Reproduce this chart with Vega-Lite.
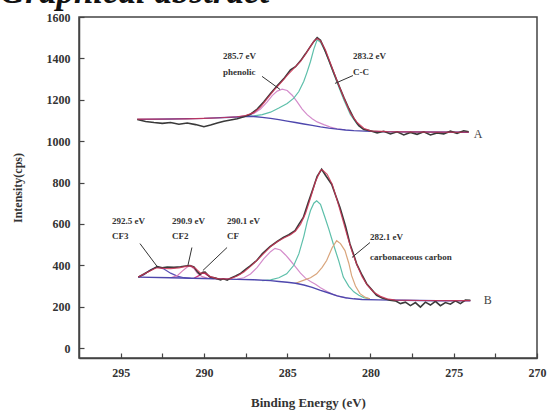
{
  "$schema": "https://vega.github.io/schema/vega-lite/v6.json",
  "autosize": "none",
  "width": 458,
  "height": 341,
  "padding": {"left": 79, "top": 17, "right": 14, "bottom": 54},
  "background": "white",
  "title": {"text": "Graphical abstract", "font": "Liberation Serif", "fontStyle": "italic", "fontWeight": "bold", "fontSize": 35, "color": "#111", "anchor": "start", "frame": "group", "baseline": "alphabetic", "offset": 0, "dx": -79, "dy": 27},
  "config": {"view": {"stroke": "#444", "strokeWidth": 1.5}, "axis": {"grid": false, "labelFlush": false, "labelOverlap": false, "domainColor": "#444", "domainWidth": 1.5, "tickColor": "#444", "tickSize": -5, "tickWidth": 1.2, "labelFont": "Liberation Serif", "labelFontWeight": "bold", "labelFontSize": 12, "labelColor": "#333", "titleFont": "Liberation Serif", "titleFontWeight": "bold", "titleColor": "#333"}},
  "datasets": {
    "spectra": [
      {"spec": "A", "series": "raw", "E": 294.0, "I": 1105}, {"spec": "A", "series": "raw", "E": 293.5, "I": 1095}, {"spec": "A", "series": "raw", "E": 293.0, "I": 1090}, {"spec": "A", "series": "raw", "E": 292.5, "I": 1086}, {"spec": "A", "series": "raw", "E": 292.0, "I": 1090}, {"spec": "A", "series": "raw", "E": 291.5, "I": 1082}, {"spec": "A", "series": "raw", "E": 291.0, "I": 1088}, {"spec": "A", "series": "raw", "E": 290.5, "I": 1080}, {"spec": "A", "series": "raw", "E": 290.0, "I": 1070}, {"spec": "A", "series": "raw", "E": 289.6, "I": 1078}, {"spec": "A", "series": "raw", "E": 289.2, "I": 1088}, {"spec": "A", "series": "raw", "E": 288.8, "I": 1096}, {"spec": "A", "series": "raw", "E": 288.4, "I": 1102}, {"spec": "A", "series": "raw", "E": 288.0, "I": 1108}, {"spec": "A", "series": "raw", "E": 287.6, "I": 1118}, {"spec": "A", "series": "raw", "E": 287.2, "I": 1130}, {"spec": "A", "series": "raw", "E": 286.8, "I": 1155}, {"spec": "A", "series": "raw", "E": 286.4, "I": 1190}, {"spec": "A", "series": "raw", "E": 286.0, "I": 1230}, {"spec": "A", "series": "raw", "E": 285.6, "I": 1268}, {"spec": "A", "series": "raw", "E": 285.2, "I": 1302}, {"spec": "A", "series": "raw", "E": 284.8, "I": 1345}, {"spec": "A", "series": "raw", "E": 284.5, "I": 1360}, {"spec": "A", "series": "raw", "E": 284.2, "I": 1388}, {"spec": "A", "series": "raw", "E": 283.9, "I": 1422}, {"spec": "A", "series": "raw", "E": 283.6, "I": 1458}, {"spec": "A", "series": "raw", "E": 283.4, "I": 1482}, {"spec": "A", "series": "raw", "E": 283.2, "I": 1500}, {"spec": "A", "series": "raw", "E": 283.0, "I": 1488}, {"spec": "A", "series": "raw", "E": 282.8, "I": 1452}, {"spec": "A", "series": "raw", "E": 282.5, "I": 1392}, {"spec": "A", "series": "raw", "E": 282.2, "I": 1330}, {"spec": "A", "series": "raw", "E": 281.9, "I": 1270}, {"spec": "A", "series": "raw", "E": 281.6, "I": 1212}, {"spec": "A", "series": "raw", "E": 281.3, "I": 1158}, {"spec": "A", "series": "raw", "E": 281.0, "I": 1110}, {"spec": "A", "series": "raw", "E": 280.7, "I": 1075}, {"spec": "A", "series": "raw", "E": 280.4, "I": 1056}, {"spec": "A", "series": "raw", "E": 280.0, "I": 1050}, {"spec": "A", "series": "raw", "E": 279.6, "I": 1040}, {"spec": "A", "series": "raw", "E": 279.2, "I": 1048}, {"spec": "A", "series": "raw", "E": 278.8, "I": 1035}, {"spec": "A", "series": "raw", "E": 278.4, "I": 1045}, {"spec": "A", "series": "raw", "E": 278.0, "I": 1030}, {"spec": "A", "series": "raw", "E": 277.6, "I": 1042}, {"spec": "A", "series": "raw", "E": 277.2, "I": 1033}, {"spec": "A", "series": "raw", "E": 276.8, "I": 1045}, {"spec": "A", "series": "raw", "E": 276.4, "I": 1030}, {"spec": "A", "series": "raw", "E": 276.0, "I": 1040}, {"spec": "A", "series": "raw", "E": 275.6, "I": 1035}, {"spec": "A", "series": "raw", "E": 275.2, "I": 1048}, {"spec": "A", "series": "raw", "E": 274.8, "I": 1038}, {"spec": "A", "series": "raw", "E": 274.4, "I": 1050}, {"spec": "A", "series": "raw", "E": 274.1, "I": 1045},

      {"spec": "A", "series": "fit", "E": 294.0, "I": 1106}, {"spec": "A", "series": "fit", "E": 293.0, "I": 1106}, {"spec": "A", "series": "fit", "E": 292.0, "I": 1107}, {"spec": "A", "series": "fit", "E": 291.0, "I": 1108}, {"spec": "A", "series": "fit", "E": 290.0, "I": 1110}, {"spec": "A", "series": "fit", "E": 289.0, "I": 1113}, {"spec": "A", "series": "fit", "E": 288.0, "I": 1118}, {"spec": "A", "series": "fit", "E": 287.5, "I": 1124}, {"spec": "A", "series": "fit", "E": 287.0, "I": 1138}, {"spec": "A", "series": "fit", "E": 286.6, "I": 1165}, {"spec": "A", "series": "fit", "E": 286.2, "I": 1205}, {"spec": "A", "series": "fit", "E": 285.8, "I": 1245}, {"spec": "A", "series": "fit", "E": 285.4, "I": 1280}, {"spec": "A", "series": "fit", "E": 285.0, "I": 1318}, {"spec": "A", "series": "fit", "E": 284.6, "I": 1352}, {"spec": "A", "series": "fit", "E": 284.2, "I": 1385}, {"spec": "A", "series": "fit", "E": 283.9, "I": 1420}, {"spec": "A", "series": "fit", "E": 283.6, "I": 1458}, {"spec": "A", "series": "fit", "E": 283.4, "I": 1482}, {"spec": "A", "series": "fit", "E": 283.2, "I": 1496}, {"spec": "A", "series": "fit", "E": 283.0, "I": 1485}, {"spec": "A", "series": "fit", "E": 282.7, "I": 1440}, {"spec": "A", "series": "fit", "E": 282.4, "I": 1375}, {"spec": "A", "series": "fit", "E": 282.0, "I": 1290}, {"spec": "A", "series": "fit", "E": 281.6, "I": 1210}, {"spec": "A", "series": "fit", "E": 281.2, "I": 1135}, {"spec": "A", "series": "fit", "E": 280.8, "I": 1090}, {"spec": "A", "series": "fit", "E": 280.4, "I": 1062}, {"spec": "A", "series": "fit", "E": 280.0, "I": 1050}, {"spec": "A", "series": "fit", "E": 279.0, "I": 1046}, {"spec": "A", "series": "fit", "E": 278.0, "I": 1045}, {"spec": "A", "series": "fit", "E": 276.0, "I": 1044}, {"spec": "A", "series": "fit", "E": 274.1, "I": 1043},

      {"spec": "A", "series": "bg", "E": 294.0, "I": 1105}, {"spec": "A", "series": "bg", "E": 292.0, "I": 1107}, {"spec": "A", "series": "bg", "E": 290.0, "I": 1110}, {"spec": "A", "series": "bg", "E": 288.0, "I": 1117}, {"spec": "A", "series": "bg", "E": 287.4, "I": 1120}, {"spec": "A", "series": "bg", "E": 287.0, "I": 1119}, {"spec": "A", "series": "bg", "E": 286.5, "I": 1115}, {"spec": "A", "series": "bg", "E": 286.0, "I": 1110}, {"spec": "A", "series": "bg", "E": 285.5, "I": 1104}, {"spec": "A", "series": "bg", "E": 285.0, "I": 1097}, {"spec": "A", "series": "bg", "E": 284.5, "I": 1090}, {"spec": "A", "series": "bg", "E": 284.0, "I": 1083}, {"spec": "A", "series": "bg", "E": 283.5, "I": 1076}, {"spec": "A", "series": "bg", "E": 283.0, "I": 1069}, {"spec": "A", "series": "bg", "E": 282.5, "I": 1063}, {"spec": "A", "series": "bg", "E": 282.0, "I": 1058}, {"spec": "A", "series": "bg", "E": 281.5, "I": 1054}, {"spec": "A", "series": "bg", "E": 281.0, "I": 1051}, {"spec": "A", "series": "bg", "E": 280.0, "I": 1047}, {"spec": "A", "series": "bg", "E": 279.0, "I": 1045}, {"spec": "A", "series": "bg", "E": 277.0, "I": 1044}, {"spec": "A", "series": "bg", "E": 274.1, "I": 1043},

      {"spec": "A", "series": "pink", "E": 288.0, "I": 1118}, {"spec": "A", "series": "pink", "E": 287.5, "I": 1122}, {"spec": "A", "series": "pink", "E": 287.0, "I": 1134}, {"spec": "A", "series": "pink", "E": 286.6, "I": 1155}, {"spec": "A", "series": "pink", "E": 286.2, "I": 1190}, {"spec": "A", "series": "pink", "E": 285.9, "I": 1220}, {"spec": "A", "series": "pink", "E": 285.6, "I": 1242}, {"spec": "A", "series": "pink", "E": 285.3, "I": 1251}, {"spec": "A", "series": "pink", "E": 285.0, "I": 1245}, {"spec": "A", "series": "pink", "E": 284.7, "I": 1222}, {"spec": "A", "series": "pink", "E": 284.4, "I": 1190}, {"spec": "A", "series": "pink", "E": 284.1, "I": 1155}, {"spec": "A", "series": "pink", "E": 283.8, "I": 1128}, {"spec": "A", "series": "pink", "E": 283.5, "I": 1108}, {"spec": "A", "series": "pink", "E": 283.2, "I": 1093}, {"spec": "A", "series": "pink", "E": 282.8, "I": 1080}, {"spec": "A", "series": "pink", "E": 282.4, "I": 1068}, {"spec": "A", "series": "pink", "E": 282.0, "I": 1060}, {"spec": "A", "series": "pink", "E": 281.5, "I": 1055},

      {"spec": "A", "series": "green", "E": 287.5, "I": 1120}, {"spec": "A", "series": "green", "E": 287.0, "I": 1122}, {"spec": "A", "series": "green", "E": 286.5, "I": 1128}, {"spec": "A", "series": "green", "E": 286.0, "I": 1140}, {"spec": "A", "series": "green", "E": 285.5, "I": 1160}, {"spec": "A", "series": "green", "E": 285.0, "I": 1182}, {"spec": "A", "series": "green", "E": 284.6, "I": 1208}, {"spec": "A", "series": "green", "E": 284.3, "I": 1240}, {"spec": "A", "series": "green", "E": 284.0, "I": 1290}, {"spec": "A", "series": "green", "E": 283.8, "I": 1335}, {"spec": "A", "series": "green", "E": 283.6, "I": 1385}, {"spec": "A", "series": "green", "E": 283.4, "I": 1445}, {"spec": "A", "series": "green", "E": 283.2, "I": 1490}, {"spec": "A", "series": "green", "E": 283.0, "I": 1478}, {"spec": "A", "series": "green", "E": 282.7, "I": 1432}, {"spec": "A", "series": "green", "E": 282.4, "I": 1368}, {"spec": "A", "series": "green", "E": 282.0, "I": 1282}, {"spec": "A", "series": "green", "E": 281.6, "I": 1200}, {"spec": "A", "series": "green", "E": 281.2, "I": 1128}, {"spec": "A", "series": "green", "E": 280.8, "I": 1083}, {"spec": "A", "series": "green", "E": 280.4, "I": 1058}, {"spec": "A", "series": "green", "E": 280.0, "I": 1049}, {"spec": "A", "series": "green", "E": 279.5, "I": 1046},

      {"spec": "B", "series": "raw", "E": 293.94, "I": 343}, {"spec": "B", "series": "raw", "E": 293.6, "I": 358}, {"spec": "B", "series": "raw", "E": 293.3, "I": 372}, {"spec": "B", "series": "raw", "E": 293.0, "I": 385}, {"spec": "B", "series": "raw", "E": 292.8, "I": 394}, {"spec": "B", "series": "raw", "E": 292.5, "I": 388}, {"spec": "B", "series": "raw", "E": 292.2, "I": 392}, {"spec": "B", "series": "raw", "E": 291.8, "I": 390}, {"spec": "B", "series": "raw", "E": 291.4, "I": 393}, {"spec": "B", "series": "raw", "E": 291.1, "I": 397}, {"spec": "B", "series": "raw", "E": 290.84, "I": 399}, {"spec": "B", "series": "raw", "E": 290.6, "I": 392}, {"spec": "B", "series": "raw", "E": 290.4, "I": 370}, {"spec": "B", "series": "raw", "E": 290.24, "I": 356}, {"spec": "B", "series": "raw", "E": 290.05, "I": 366}, {"spec": "B", "series": "raw", "E": 289.93, "I": 367}, {"spec": "B", "series": "raw", "E": 289.75, "I": 352}, {"spec": "B", "series": "raw", "E": 289.63, "I": 343}, {"spec": "B", "series": "raw", "E": 289.3, "I": 338}, {"spec": "B", "series": "raw", "E": 289.0, "I": 330}, {"spec": "B", "series": "raw", "E": 288.84, "I": 335}, {"spec": "B", "series": "raw", "E": 288.6, "I": 328}, {"spec": "B", "series": "raw", "E": 288.43, "I": 337}, {"spec": "B", "series": "raw", "E": 288.1, "I": 348}, {"spec": "B", "series": "raw", "E": 287.83, "I": 359}, {"spec": "B", "series": "raw", "E": 287.5, "I": 380}, {"spec": "B", "series": "raw", "E": 287.2, "I": 398}, {"spec": "B", "series": "raw", "E": 286.83, "I": 423}, {"spec": "B", "series": "raw", "E": 286.5, "I": 455}, {"spec": "B", "series": "raw", "E": 286.03, "I": 490}, {"spec": "B", "series": "raw", "E": 285.6, "I": 515}, {"spec": "B", "series": "raw", "E": 285.23, "I": 535}, {"spec": "B", "series": "raw", "E": 284.9, "I": 548}, {"spec": "B", "series": "raw", "E": 284.53, "I": 567}, {"spec": "B", "series": "raw", "E": 284.3, "I": 598}, {"spec": "B", "series": "raw", "E": 284.03, "I": 631}, {"spec": "B", "series": "raw", "E": 283.75, "I": 700}, {"spec": "B", "series": "raw", "E": 283.43, "I": 775}, {"spec": "B", "series": "raw", "E": 283.2, "I": 830}, {"spec": "B", "series": "raw", "E": 282.93, "I": 864}, {"spec": "B", "series": "raw", "E": 282.7, "I": 835}, {"spec": "B", "series": "raw", "E": 282.33, "I": 792}, {"spec": "B", "series": "raw", "E": 282.1, "I": 740}, {"spec": "B", "series": "raw", "E": 281.83, "I": 679}, {"spec": "B", "series": "raw", "E": 281.5, "I": 590}, {"spec": "B", "series": "raw", "E": 281.23, "I": 503}, {"spec": "B", "series": "raw", "E": 281.0, "I": 450}, {"spec": "B", "series": "raw", "E": 280.83, "I": 407}, {"spec": "B", "series": "raw", "E": 280.5, "I": 352}, {"spec": "B", "series": "raw", "E": 280.23, "I": 311}, {"spec": "B", "series": "raw", "E": 279.9, "I": 280}, {"spec": "B", "series": "raw", "E": 279.63, "I": 255}, {"spec": "B", "series": "raw", "E": 279.3, "I": 242}, {"spec": "B", "series": "raw", "E": 278.83, "I": 231}, {"spec": "B", "series": "raw", "E": 278.5, "I": 228}, {"spec": "B", "series": "raw", "E": 278.2, "I": 215}, {"spec": "B", "series": "raw", "E": 277.9, "I": 222}, {"spec": "B", "series": "raw", "E": 277.6, "I": 205}, {"spec": "B", "series": "raw", "E": 277.3, "I": 220}, {"spec": "B", "series": "raw", "E": 277.0, "I": 198}, {"spec": "B", "series": "raw", "E": 276.7, "I": 222}, {"spec": "B", "series": "raw", "E": 276.4, "I": 208}, {"spec": "B", "series": "raw", "E": 276.1, "I": 226}, {"spec": "B", "series": "raw", "E": 275.8, "I": 205}, {"spec": "B", "series": "raw", "E": 275.5, "I": 220}, {"spec": "B", "series": "raw", "E": 275.2, "I": 212}, {"spec": "B", "series": "raw", "E": 274.9, "I": 228}, {"spec": "B", "series": "raw", "E": 274.6, "I": 215}, {"spec": "B", "series": "raw", "E": 274.3, "I": 232}, {"spec": "B", "series": "raw", "E": 274.0, "I": 231},

      {"spec": "B", "series": "fit", "E": 293.94, "I": 343}, {"spec": "B", "series": "fit", "E": 293.5, "I": 362}, {"spec": "B", "series": "fit", "E": 293.0, "I": 382}, {"spec": "B", "series": "fit", "E": 292.8, "I": 388}, {"spec": "B", "series": "fit", "E": 292.4, "I": 385}, {"spec": "B", "series": "fit", "E": 292.0, "I": 384}, {"spec": "B", "series": "fit", "E": 291.5, "I": 388}, {"spec": "B", "series": "fit", "E": 291.0, "I": 396}, {"spec": "B", "series": "fit", "E": 290.8, "I": 398}, {"spec": "B", "series": "fit", "E": 290.5, "I": 385}, {"spec": "B", "series": "fit", "E": 290.2, "I": 362}, {"spec": "B", "series": "fit", "E": 289.9, "I": 362}, {"spec": "B", "series": "fit", "E": 289.6, "I": 345}, {"spec": "B", "series": "fit", "E": 289.2, "I": 336}, {"spec": "B", "series": "fit", "E": 288.8, "I": 334}, {"spec": "B", "series": "fit", "E": 288.4, "I": 336}, {"spec": "B", "series": "fit", "E": 288.0, "I": 348}, {"spec": "B", "series": "fit", "E": 287.6, "I": 368}, {"spec": "B", "series": "fit", "E": 287.2, "I": 395}, {"spec": "B", "series": "fit", "E": 286.8, "I": 425}, {"spec": "B", "series": "fit", "E": 286.4, "I": 458}, {"spec": "B", "series": "fit", "E": 286.0, "I": 490}, {"spec": "B", "series": "fit", "E": 285.6, "I": 514}, {"spec": "B", "series": "fit", "E": 285.2, "I": 532}, {"spec": "B", "series": "fit", "E": 284.8, "I": 548}, {"spec": "B", "series": "fit", "E": 284.5, "I": 566}, {"spec": "B", "series": "fit", "E": 284.2, "I": 598}, {"spec": "B", "series": "fit", "E": 283.9, "I": 650}, {"spec": "B", "series": "fit", "E": 283.6, "I": 725}, {"spec": "B", "series": "fit", "E": 283.3, "I": 805}, {"spec": "B", "series": "fit", "E": 283.0, "I": 858}, {"spec": "B", "series": "fit", "E": 282.9, "I": 862}, {"spec": "B", "series": "fit", "E": 282.6, "I": 840}, {"spec": "B", "series": "fit", "E": 282.3, "I": 792}, {"spec": "B", "series": "fit", "E": 282.0, "I": 715}, {"spec": "B", "series": "fit", "E": 281.7, "I": 630}, {"spec": "B", "series": "fit", "E": 281.4, "I": 545}, {"spec": "B", "series": "fit", "E": 281.1, "I": 465}, {"spec": "B", "series": "fit", "E": 280.8, "I": 400}, {"spec": "B", "series": "fit", "E": 280.5, "I": 345}, {"spec": "B", "series": "fit", "E": 280.2, "I": 305}, {"spec": "B", "series": "fit", "E": 279.8, "I": 270}, {"spec": "B", "series": "fit", "E": 279.4, "I": 250}, {"spec": "B", "series": "fit", "E": 279.0, "I": 238}, {"spec": "B", "series": "fit", "E": 278.5, "I": 232}, {"spec": "B", "series": "fit", "E": 277.0, "I": 230}, {"spec": "B", "series": "fit", "E": 275.0, "I": 229}, {"spec": "B", "series": "fit", "E": 274.0, "I": 229},

      {"spec": "B", "series": "bg", "E": 293.94, "I": 343}, {"spec": "B", "series": "bg", "E": 292.0, "I": 340}, {"spec": "B", "series": "bg", "E": 290.0, "I": 336}, {"spec": "B", "series": "bg", "E": 288.0, "I": 332}, {"spec": "B", "series": "bg", "E": 287.0, "I": 330}, {"spec": "B", "series": "bg", "E": 286.0, "I": 326}, {"spec": "B", "series": "bg", "E": 285.5, "I": 322}, {"spec": "B", "series": "bg", "E": 285.0, "I": 318}, {"spec": "B", "series": "bg", "E": 284.5, "I": 313}, {"spec": "B", "series": "bg", "E": 284.0, "I": 305}, {"spec": "B", "series": "bg", "E": 283.5, "I": 293}, {"spec": "B", "series": "bg", "E": 283.0, "I": 279}, {"spec": "B", "series": "bg", "E": 282.5, "I": 266}, {"spec": "B", "series": "bg", "E": 282.0, "I": 252}, {"spec": "B", "series": "bg", "E": 281.5, "I": 243}, {"spec": "B", "series": "bg", "E": 281.0, "I": 238}, {"spec": "B", "series": "bg", "E": 280.5, "I": 235}, {"spec": "B", "series": "bg", "E": 279.5, "I": 233}, {"spec": "B", "series": "bg", "E": 278.0, "I": 231}, {"spec": "B", "series": "bg", "E": 276.0, "I": 229}, {"spec": "B", "series": "bg", "E": 274.0, "I": 228},

      {"spec": "B", "series": "pink", "E": 288.0, "I": 333}, {"spec": "B", "series": "pink", "E": 287.6, "I": 340}, {"spec": "B", "series": "pink", "E": 287.2, "I": 358}, {"spec": "B", "series": "pink", "E": 286.8, "I": 390}, {"spec": "B", "series": "pink", "E": 286.4, "I": 432}, {"spec": "B", "series": "pink", "E": 286.0, "I": 466}, {"spec": "B", "series": "pink", "E": 285.73, "I": 482}, {"spec": "B", "series": "pink", "E": 285.4, "I": 474}, {"spec": "B", "series": "pink", "E": 285.1, "I": 450}, {"spec": "B", "series": "pink", "E": 284.8, "I": 422}, {"spec": "B", "series": "pink", "E": 284.5, "I": 392}, {"spec": "B", "series": "pink", "E": 284.2, "I": 362}, {"spec": "B", "series": "pink", "E": 283.9, "I": 338}, {"spec": "B", "series": "pink", "E": 283.6, "I": 322}, {"spec": "B", "series": "pink", "E": 283.3, "I": 308}, {"spec": "B", "series": "pink", "E": 283.0, "I": 292}, {"spec": "B", "series": "pink", "E": 282.6, "I": 273}, {"spec": "B", "series": "pink", "E": 282.2, "I": 258}, {"spec": "B", "series": "pink", "E": 281.8, "I": 248}, {"spec": "B", "series": "pink", "E": 281.4, "I": 242},

      {"spec": "B", "series": "green", "E": 286.5, "I": 326}, {"spec": "B", "series": "green", "E": 286.0, "I": 330}, {"spec": "B", "series": "green", "E": 285.5, "I": 340}, {"spec": "B", "series": "green", "E": 285.03, "I": 359}, {"spec": "B", "series": "green", "E": 284.6, "I": 400}, {"spec": "B", "series": "green", "E": 284.3, "I": 455}, {"spec": "B", "series": "green", "E": 284.0, "I": 540}, {"spec": "B", "series": "green", "E": 283.8, "I": 610}, {"spec": "B", "series": "green", "E": 283.6, "I": 665}, {"spec": "B", "series": "green", "E": 283.4, "I": 700}, {"spec": "B", "series": "green", "E": 283.23, "I": 712}, {"spec": "B", "series": "green", "E": 283.0, "I": 695}, {"spec": "B", "series": "green", "E": 282.73, "I": 631}, {"spec": "B", "series": "green", "E": 282.5, "I": 575}, {"spec": "B", "series": "green", "E": 282.23, "I": 503}, {"spec": "B", "series": "green", "E": 281.9, "I": 420}, {"spec": "B", "series": "green", "E": 281.63, "I": 343}, {"spec": "B", "series": "green", "E": 281.3, "I": 298}, {"spec": "B", "series": "green", "E": 281.0, "I": 272}, {"spec": "B", "series": "green", "E": 280.7, "I": 255}, {"spec": "B", "series": "green", "E": 280.4, "I": 244}, {"spec": "B", "series": "green", "E": 280.03, "I": 238},

      {"spec": "B", "series": "orange", "E": 284.5, "I": 313}, {"spec": "B", "series": "orange", "E": 284.03, "I": 327}, {"spec": "B", "series": "orange", "E": 283.6, "I": 340}, {"spec": "B", "series": "orange", "E": 283.23, "I": 359}, {"spec": "B", "series": "orange", "E": 282.9, "I": 390}, {"spec": "B", "series": "orange", "E": 282.63, "I": 423}, {"spec": "B", "series": "orange", "E": 282.3, "I": 485}, {"spec": "B", "series": "orange", "E": 282.03, "I": 519}, {"spec": "B", "series": "orange", "E": 281.8, "I": 505}, {"spec": "B", "series": "orange", "E": 281.53, "I": 471}, {"spec": "B", "series": "orange", "E": 281.3, "I": 410}, {"spec": "B", "series": "orange", "E": 281.13, "I": 350}, {"spec": "B", "series": "orange", "E": 280.9, "I": 300}, {"spec": "B", "series": "orange", "E": 280.63, "I": 263}, {"spec": "B", "series": "orange", "E": 280.3, "I": 245}, {"spec": "B", "series": "orange", "E": 280.03, "I": 238},

      {"spec": "B", "series": "cf3", "E": 293.94, "I": 343}, {"spec": "B", "series": "cf3", "E": 293.6, "I": 355}, {"spec": "B", "series": "cf3", "E": 293.2, "I": 378}, {"spec": "B", "series": "cf3", "E": 292.8, "I": 392}, {"spec": "B", "series": "cf3", "E": 292.4, "I": 382}, {"spec": "B", "series": "cf3", "E": 292.0, "I": 362}, {"spec": "B", "series": "cf3", "E": 291.6, "I": 348}, {"spec": "B", "series": "cf3", "E": 291.2, "I": 340}, {"spec": "B", "series": "cf3", "E": 290.8, "I": 337},

      {"spec": "B", "series": "cf2", "E": 292.0, "I": 340}, {"spec": "B", "series": "cf2", "E": 291.6, "I": 350}, {"spec": "B", "series": "cf2", "E": 291.3, "I": 372}, {"spec": "B", "series": "cf2", "E": 291.0, "I": 392}, {"spec": "B", "series": "cf2", "E": 290.84, "I": 397}, {"spec": "B", "series": "cf2", "E": 290.6, "I": 385}, {"spec": "B", "series": "cf2", "E": 290.4, "I": 362}, {"spec": "B", "series": "cf2", "E": 290.1, "I": 345}, {"spec": "B", "series": "cf2", "E": 289.8, "I": 338}, {"spec": "B", "series": "cf2", "E": 289.4, "I": 336},

      {"spec": "B", "series": "cf", "E": 290.6, "I": 337}, {"spec": "B", "series": "cf", "E": 290.3, "I": 350}, {"spec": "B", "series": "cf", "E": 290.05, "I": 366}, {"spec": "B", "series": "cf", "E": 289.8, "I": 352}, {"spec": "B", "series": "cf", "E": 289.5, "I": 338}, {"spec": "B", "series": "cf", "E": 289.2, "I": 335}
    ],
    "labels": [
      {"E": 288.85, "I": 1413, "text": "285.7 eV"},
      {"E": 288.85, "I": 1332, "text": "phenolic"},
      {"E": 281.05, "I": 1413, "text": "283.2 eV"},
      {"E": 281.05, "I": 1332, "text": "C-C"},
      {"E": 295.52, "I": 615, "text": "292.5 eV"},
      {"E": 295.52, "I": 543, "text": "CF3"},
      {"E": 291.92, "I": 615, "text": "290.9 eV"},
      {"E": 291.92, "I": 543, "text": "CF2"},
      {"E": 288.61, "I": 615, "text": "290.1 eV"},
      {"E": 288.61, "I": 543, "text": "CF"},
      {"E": 280.03, "I": 538, "text": "282.1 eV"},
      {"E": 280.03, "I": 442, "text": "carbonaceous carbon"}
    ],
    "tags": [
      {"E": 273.8, "I": 1034, "text": "A"},
      {"E": 273.2, "I": 231, "text": "B"}
    ],
    "pointers": [
      {"E1": 286.51, "I1": 1313, "E2": 285.43, "I2": 1250},
      {"E1": 281.05, "I1": 1317, "E2": 282.13, "I2": 1279},
      {"E1": 293.84, "I1": 505, "E2": 292.76, "I2": 389},
      {"E1": 290.72, "I1": 486, "E2": 290.96, "I2": 399},
      {"E1": 288.61, "I1": 486, "E2": 290.06, "I2": 375},
      {"E1": 280.03, "I1": 510, "E2": 281.11, "I2": 438}
    ]
  },
  "layer": [
    {
      "data": {"name": "spectra"},
      "transform": [{"filter": "datum.series !== 'raw' && datum.series !== 'fit' && datum.series !== 'bg'"}],
      "mark": {"type": "line", "strokeWidth": 1.2},
      "encoding": {
        "x": {"field": "E", "type": "quantitative", "scale": {"domain": [270, 297.5], "reverse": true, "nice": false, "zero": false},
          "axis": {"values": [295, 292.5, 290, 287.5, 285, 282.5, 280, 277.5, 275, 272.5, 270], "labelExpr": "datum.value % 5 === 0 ? datum.label : ''", "labelPadding": 14, "title": "Binding Energy (eV)", "titleFontSize": 13, "titlePadding": 18}},
        "y": {"field": "I", "type": "quantitative", "scale": {"domain": [-48, 1600], "nice": false, "zero": false},
          "axis": {"values": [0, 100, 200, 300, 400, 500, 600, 700, 800, 900, 1000, 1100, 1200, 1300, 1400, 1500, 1600], "labelExpr": "datum.value % 200 === 0 ? datum.value : ''", "labelPadding": 14, "title": "Intensity(cps)", "titleFontSize": 12, "titlePadding": 22}},
        "color": {"field": "series", "type": "nominal", "scale": {"domain": ["pink", "green", "orange", "cf3", "cf2", "cf"], "range": ["#d48ccb", "#5dbfaa", "#d9a57c", "#5a4fb5", "#d87fb8", "#d0307a"]}, "legend": null},
        "detail": {"field": "spec"}
      }
    },
    {
      "data": {"name": "spectra"},
      "transform": [{"filter": "datum.series === 'bg'"}],
      "mark": {"type": "line", "strokeWidth": 1.4, "color": "#4e47ad"},
      "encoding": {"x": {"field": "E", "type": "quantitative"}, "y": {"field": "I", "type": "quantitative"}, "detail": {"field": "spec"}}
    },
    {
      "data": {"name": "spectra"},
      "transform": [{"filter": "datum.series === 'raw'"}],
      "mark": {"type": "line", "strokeWidth": 1.6, "color": "#3a3a3a"},
      "encoding": {"x": {"field": "E", "type": "quantitative"}, "y": {"field": "I", "type": "quantitative"}, "detail": {"field": "spec"}}
    },
    {
      "data": {"name": "spectra"},
      "transform": [{"filter": "datum.series === 'fit'"}],
      "mark": {"type": "line", "strokeWidth": 1.2, "color": "#cc3355", "opacity": 0.85},
      "encoding": {"x": {"field": "E", "type": "quantitative"}, "y": {"field": "I", "type": "quantitative"}, "detail": {"field": "spec"}}
    },
    {
      "data": {"name": "pointers"},
      "mark": {"type": "rule", "color": "#333", "strokeWidth": 1},
      "encoding": {"x": {"field": "E1", "type": "quantitative"}, "y": {"field": "I1", "type": "quantitative"}, "x2": {"field": "E2"}, "y2": {"field": "I2"}}
    },
    {
      "data": {"name": "labels"},
      "mark": {"type": "text", "align": "left", "baseline": "middle", "font": "Liberation Serif", "fontWeight": "bold", "fontSize": 9, "color": "#333"},
      "encoding": {"x": {"field": "E", "type": "quantitative"}, "y": {"field": "I", "type": "quantitative"}, "text": {"field": "text"}}
    },
    {
      "data": {"name": "tags"},
      "mark": {"type": "text", "align": "left", "baseline": "middle", "font": "Liberation Serif", "fontSize": 12, "color": "#444"},
      "encoding": {"x": {"field": "E", "type": "quantitative"}, "y": {"field": "I", "type": "quantitative"}, "text": {"field": "text"}}
    }
  ]
}
